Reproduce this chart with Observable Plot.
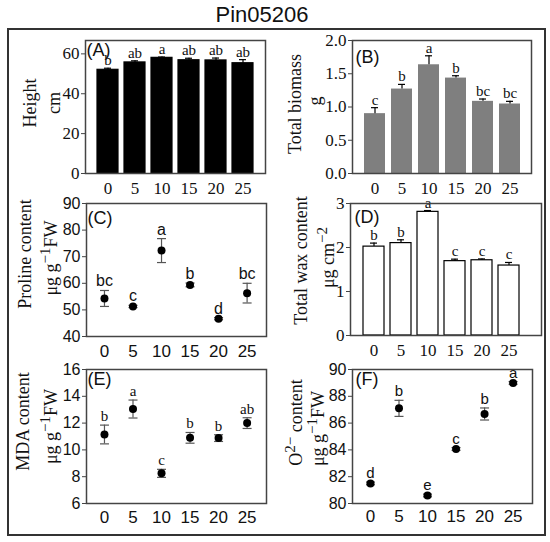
<!DOCTYPE html>
<html><head><meta charset="utf-8">
<script src="https://cdn.jsdelivr.net/npm/d3@7"></script>
<script src="https://cdn.jsdelivr.net/npm/@observablehq/plot@0.6"></script>
<style>
body{margin:0;background:#fff;}
#wrap{position:relative;width:550px;height:542px;background:#fff;overflow:hidden;}
#title{position:absolute;left:0;width:524px;top:4px;text-align:center;font-family:"Liberation Sans",Arial,sans-serif;font-size:22px;line-height:22px;color:#111;}
#border{position:absolute;left:7px;top:28px;width:535px;height:504px;border:2px solid #333;}
.panel{position:absolute;}
</style></head><body>
<div id="wrap"><div id="title">Pin05206</div><div id="border"></div></div>
<script>
const temps = ["0","5","10","15","20","25"];
const tempValues = [0, 5, 10, 15, 20, 25];

const heightMean = [52.0, 55.7, 58.0, 56.8, 56.7, 55.3];
const heightErr = [0.8, 0.8, 0.4, 1.0, 1.2, 1.8];
const heightLetters = ["b", "ab", "a", "ab", "ab", "ab"];
const heightTicks = [0, 20, 40, 60];

const biomassMean = [0.90, 1.27, 1.635, 1.435, 1.085, 1.045];
const biomassErr = [0.09, 0.07, 0.135, 0.035, 0.035, 0.04];
const biomassLetters = ["c", "b", "a", "b", "bc", "bc"];
const biomassTicks = [0, 0.5, 1.0, 1.5, 2.0];

const prolineMean = [54.3, 51.3, 72.3, 59.4, 46.7, 56.3];
const prolineErr = [3.0, 0.4, 4.5, 0.7, 0.4, 3.7];
const prolineLetters = ["bc", "c", "a", "b", "d", "bc"];
const prolineTicks = [40, 50, 60, 70, 80, 90];

const waxMean = [2.02, 2.10, 2.81, 1.69, 1.71, 1.59];
const waxErr = [0.08, 0.075, 0.03, 0.045, 0.03, 0.07];
const waxLetters = ["b", "b", "a", "c", "c", "c"];
const waxTicks = [0, 1, 2, 3];

const mdaMean = [11.15, 13.05, 8.25, 10.9, 10.88, 12.0];
const mdaErr = [0.7, 0.67, 0.3, 0.4, 0.25, 0.4];
const mdaLetters = ["b", "a", "c", "b", "b", "ab"];
const mdaTicks = [6, 8, 10, 12, 14, 16];

const o2Mean = [81.5, 87.1, 80.6, 84.07, 86.68, 89.0];
const o2Err = [0.1, 0.6, 0.1, 0.1, 0.45, 0.1];
const o2Letters = ["d", "b", "e", "c", "b", "a"];
const o2Ticks = [80, 82, 84, 86, 88, 90];

const serif = '"Liberation Serif","Times New Roman",serif';
const sans = '"Liberation Sans",Arial,sans-serif';
const wrap = document.getElementById("wrap");

function rows(means, errs, letters) {
  return temps.map((t, i) => ({t, x: tempValues[i], v: means[i], e: errs[i], l: letters[i]}));
}

const capSymbol = {draw(ctx, size) { const w = Math.sqrt(size / Math.PI); ctx.moveTo(-w, 0); ctx.lineTo(w, 0); }};

function richText(svg) {
  const ns = "http://www.w3.org/2000/svg";
  svg.querySelectorAll("text").forEach(t => {
    const s = t.textContent;
    if (!s.includes("^{")) return;
    t.textContent = "";
    const parts = s.split(/\^\{([^}]*)\}/);
    let raised = false;
    parts.forEach((p, i) => {
      if (!p) return;
      const ts = document.createElementNS(ns, "tspan");
      ts.textContent = p;
      if (i % 2 === 1) {
        ts.setAttribute("font-size", "15");
        ts.setAttribute("dy", "-7");
        raised = true;
      } else if (raised) {
        ts.setAttribute("dy", "7");
        raised = false;
      }
      t.appendChild(ts);
    });
  });
}

function place(svg, left, top) {
  richText(svg);
  const d = document.createElement("div");
  d.className = "panel";
  d.style.left = left + "px";
  d.style.top = top + "px";
  d.appendChild(svg);
  wrap.appendChild(d);
}

function labelMarks(p) {
  return [
    Plot.text([p.tag], {text: d => d, frameAnchor: "top-left", dx: p.tagDx, dy: p.tagDy, lineAnchor: "top", textAnchor: "start", fontFamily: sans, fontSize: 18, fill: "#111"}),
    Plot.text([p.label1], {text: d => d, frameAnchor: "left", rotate: -90, textAnchor: "middle", lineAnchor: "bottom", dx: p.l1dx, dy: p.l1dy, fontFamily: serif, fontSize: 18, fill: "#111"}),
    Plot.text([p.label2], {text: d => d, frameAnchor: "left", rotate: -90, textAnchor: "middle", lineAnchor: "bottom", dx: p.l2dx, dy: p.l2dy, fontFamily: serif, fontSize: 18, fill: "#111"})
  ];
}

// tick marks from the axis mark, tick labels as text marks on the same scales (so the font is honoured)
function axisMarks(p, xVals, font, xSize, ySize) {
  return [
    Plot.axisY({ticks: p.yTicks, tickSize: 4, tickFormat: () => "", stroke: "#444", label: null}),
    Plot.text(p.yTicks, {y: d => d, text: p.yFormat || (d => String(d)), frameAnchor: "left", dx: -6, textAnchor: "end", lineAnchor: "middle", fontFamily: font, fontSize: ySize, fill: "#111"}),
    Plot.text(xVals, {x: d => d, text: d => String(d), frameAnchor: "bottom", dy: p.xPad, lineAnchor: "top", fontFamily: font, fontSize: xSize, fill: "#111"})
  ];
}

function barPanel(p) {
  const svg = Plot.plot({
    width: p.width, height: p.height,
    marginLeft: p.ml, marginRight: p.mr, marginTop: p.mt, marginBottom: p.mb,
    style: {background: "transparent", overflow: "visible", color: "#111"},
    x: {type: "band", domain: temps, paddingInner: 0.228, paddingOuter: p.po, align: p.align, axis: null, label: null},
    y: {domain: p.yDomain, label: null},
    marks: [
      Plot.barY(p.data, {x: "t", y: "v", fill: p.fill, stroke: p.stroke, strokeWidth: 1.2}),
      Plot.ruleX(p.data, {x: "t", y1: "v", y2: d => d.v + d.e, stroke: "#000", strokeWidth: 1.2}),
      Plot.tickY(p.data, {x: "t", y: d => d.v + d.e, insetLeft: 7, insetRight: 7, stroke: "#000", strokeWidth: 1.2}),
      Plot.text(p.data, {x: "t", y: d => d.v + d.e, text: "l", lineAnchor: "bottom", dy: -3, fontFamily: serif, fontSize: 15, fill: "#111"}),
      Plot.frame({stroke: "#444", strokeWidth: 1.5}),
      ...axisMarks(p, temps, serif, 17, 17),
      ...labelMarks(p)
    ]
  });
  place(svg, p.left, p.top);
}

function dotPanel(p) {
  const svg = Plot.plot({
    width: p.width, height: p.height,
    marginLeft: p.ml, marginRight: p.mr, marginTop: p.mt, marginBottom: p.mb,
    style: {background: "transparent", overflow: "visible", color: "#111"},
    x: {domain: [-3.15, 28.4], axis: null, label: null},
    y: {domain: p.yDomain, label: null},
    marks: [
      Plot.ruleX(p.data, {x: "x", y1: d => d.v - d.e, y2: d => d.v + d.e, stroke: "#555", strokeWidth: 1.2}),
      Plot.dot(p.data, {x: "x", y: d => d.v + d.e, symbol: capSymbol, r: 4.5, stroke: "#555", strokeWidth: 1.2, fill: "none"}),
      Plot.dot(p.data, {x: "x", y: d => d.v - d.e, symbol: capSymbol, r: 4.5, stroke: "#555", strokeWidth: 1.2, fill: "none"}),
      Plot.dot(p.data, {x: "x", y: "v", r: 4, fill: "#000"}),
      Plot.text(p.data, {x: "x", y: d => d.v + d.e, text: "l", lineAnchor: "bottom", dy: -4, fontFamily: p.letterFont, fontSize: p.letterSize, fill: "#111"}),
      Plot.frame({stroke: "#444", strokeWidth: 1.5}),
      ...axisMarks(p, tempValues, sans, 17, 16),
      ...labelMarks(p)
    ]
  });
  place(svg, p.left, p.top);
}

// (A) Height
barPanel({
  data: rows(heightMean, heightErr, heightLetters),
  left: 0, top: 30, width: 275, height: 165, ml: 85, mr: 10, mt: 10, mb: 22,
  po: 0.423, align: 0.5, yDomain: [0, 66.7], yTicks: heightTicks, yFormat: d3.format("d"), xPad: 8,
  fill: "#000", stroke: "#000",
  tag: "(A)", tagDx: 1, tagDy: 3,
  label1: "Height", l1dx: -50, l1dy: -4,
  label2: "cm", l2dx: -26, l2dy: -4
});

// (B) Total biomass
barPanel({
  data: rows(biomassMean, biomassErr, biomassLetters),
  left: 275, top: 30, width: 275, height: 165, ml: 77, mr: 19, mt: 10, mb: 22,
  po: 0.42, align: 0.5, yDomain: [0, 2.0], yTicks: biomassTicks, yFormat: d3.format(".1f"), xPad: 8,
  fill: "#7f7f7f", stroke: "none",
  tag: "(B)", tagDx: 3, tagDy: 10,
  label1: "Total biomass", l1dx: -52, l1dy: -3,
  label2: "g", l2dx: -32, l2dy: -6
});

// (C) Proline content
dotPanel({
  data: rows(prolineMean, prolineErr, prolineLetters),
  left: 0, top: 193, width: 275, height: 165, ml: 86, mr: 9, mt: 10, mb: 22,
  yDomain: [40, 90], yTicks: prolineTicks, xPad: 8,
  letterFont: sans, letterSize: 16,
  tag: "(C)", tagDx: 1, tagDy: 8,
  label1: "Proline content", l1dx: -56, l1dy: -16,
  label2: "μg g^{−1}FW", l2dx: -30, l2dy: -12
});

// (D) Total wax content
barPanel({
  data: rows(waxMean, waxErr, waxLetters),
  left: 275, top: 193, width: 275, height: 165, ml: 75, mr: 9, mt: 10, mb: 23,
  po: 0.625, align: 0.36, yDomain: [0, 3], yTicks: waxTicks, yFormat: d3.format("d"), xPad: 8,
  fill: "#fff", stroke: "#000",
  tag: "(D)", tagDx: 4, tagDy: 7,
  label1: "Total wax content", l1dx: -44, l1dy: -9,
  label2: "μg cm^{−2}", l2dx: -17, l2dy: -12
});

// (E) MDA content
dotPanel({
  data: rows(mdaMean, mdaErr, mdaLetters),
  left: 0, top: 359, width: 275, height: 172, ml: 86, mr: 9, mt: 10, mb: 28,
  yDomain: [6, 16], yTicks: mdaTicks, xPad: 7,
  letterFont: serif, letterSize: 15,
  tag: "(E)", tagDx: 1, tagDy: 3,
  label1: "MDA content", l1dx: -58, l1dy: -15,
  label2: "μg g^{−1}FW", l2dx: -30, l2dy: -10
});

// (F) O2- content
dotPanel({
  data: rows(o2Mean, o2Err, o2Letters),
  left: 275, top: 359, width: 275, height: 172, ml: 77, mr: 18, mt: 10, mb: 28,
  yDomain: [80, 90], yTicks: o2Ticks, xPad: 6,
  letterFont: sans, letterSize: 15,
  tag: "(F)", tagDx: 3, tagDy: 3,
  label1: "O^{2−} content", l1dx: -51, l1dy: -14,
  label2: "μg g^{−1}FW", l2dx: -29, l2dy: -8
});
</script>
</body></html>
